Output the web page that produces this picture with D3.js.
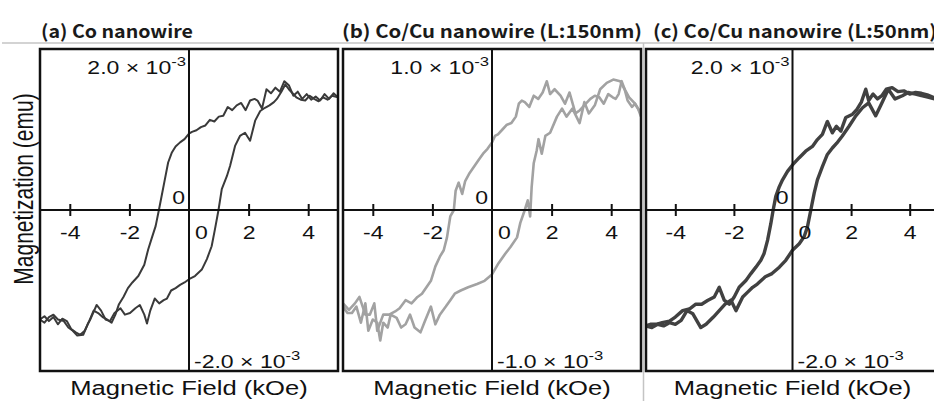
<!DOCTYPE html>
<html>
<head>
<meta charset="utf-8">
<script src="https://cdn.jsdelivr.net/npm/d3@7/dist/d3.min.js"></script>
<style>
  body { margin: 0; background: #fff; }
  svg { display: block; }
</style>
</head>
<body>
<svg id="chart"></svg>
<script>
// field in kOe, magnetization in units of 1e-3 emu
const fieldTicks = [-4, -2, 0, 2, 4];
const panelTitles = ["(a) Co nanowire", "(b) Co/Cu nanowire (L:150nm)", "(c) Co/Cu nanowire (L:50nm)"];
const magLimits = [2, 1, 2];
const limitText = ["2.0", "1.0", "2.0"];
const xLabel = "Magnetic Field (kOe)";
const yLabel = "Magnetization (emu)";

// (a) Co nanowire
const coDown = [[5.0,1.40],[4.85,1.45],[4.7,1.38],[4.55,1.44],[4.4,1.36],[4.25,1.41],[4.1,1.37],[3.95,1.44],[3.8,1.38],[3.65,1.47],[3.5,1.42],[3.35,1.55],[3.2,1.60],[3.05,1.47],[2.9,1.52],[2.75,1.45],[2.6,1.50],[2.45,1.26],[2.3,1.36],[2.2,1.38],[2.05,1.36],[1.9,1.24],[1.75,1.33],[1.6,1.30],[1.45,1.24],[1.3,1.28],[1.15,1.17],[1.0,1.16],[0.85,1.10],[0.7,1.12],[0.55,1.05],[0.4,1.03],[0.25,0.99],[0.1,0.97],[0.0,0.95],[-0.15,0.88],[-0.3,0.84],[-0.45,0.79],[-0.58,0.71],[-0.7,0.59],[-0.81,0.38],[-0.92,0.17],[-1.01,0.0],[-1.12,-0.2],[-1.25,-0.35],[-1.37,-0.49],[-1.5,-0.68],[-1.7,-0.82],[-1.9,-0.90],[-2.05,-0.97],[-2.2,-1.08],[-2.35,-1.17],[-2.47,-1.30],[-2.6,-1.40],[-2.75,-1.36],[-2.9,-1.33],[-3.05,-1.28],[-3.2,-1.25],[-3.35,-1.38],[-3.5,-1.50],[-3.65,-1.55],[-3.8,-1.52],[-3.95,-1.48],[-4.1,-1.38],[-4.25,-1.35],[-4.4,-1.42],[-4.55,-1.33],[-4.7,-1.38],[-4.85,-1.32],[-5.0,-1.36]];
const coUp = [[-5.0,-1.36],[-4.85,-1.40],[-4.7,-1.33],[-4.55,-1.30],[-4.4,-1.36],[-4.2,-1.38],[-4.05,-1.46],[-3.9,-1.50],[-3.75,-1.56],[-3.55,-1.55],[-3.4,-1.42],[-3.3,-1.35],[-3.1,-1.18],[-2.95,-1.25],[-2.8,-1.36],[-2.65,-1.38],[-2.5,-1.28],[-2.3,-1.22],[-2.15,-1.30],[-1.98,-1.28],[-1.8,-1.22],[-1.65,-1.18],[-1.5,-1.30],[-1.41,-1.41],[-1.3,-1.25],[-1.15,-1.10],[-1.0,-1.16],[-0.85,-1.12],[-0.74,-1.10],[-0.6,-1.0],[-0.45,-0.97],[-0.3,-0.93],[-0.15,-0.90],[0.0,-0.86],[0.2,-0.82],[0.43,-0.74],[0.6,-0.61],[0.76,-0.45],[0.87,-0.24],[0.99,0.0],[1.1,0.26],[1.27,0.42],[1.38,0.55],[1.55,0.80],[1.71,0.92],[1.88,0.96],[2.05,0.86],[2.22,1.11],[2.39,1.23],[2.55,1.27],[2.7,1.30],[2.85,1.34],[2.95,1.38],[3.1,1.47],[3.23,1.56],[3.35,1.50],[3.45,1.46],[3.6,1.40],[3.75,1.37],[3.9,1.36],[4.05,1.42],[4.2,1.38],[4.35,1.35],[4.5,1.40],[4.65,1.37],[4.8,1.42],[5.0,1.40]];

// (b) Co/Cu, L = 150 nm
const cu150Down = [[5.0,0.58],[4.9,0.63],[4.8,0.66],[4.7,0.64],[4.55,0.68],[4.45,0.75],[4.35,0.80],[4.25,0.72],[4.15,0.69],[4.05,0.70],[3.9,0.72],[3.75,0.66],[3.6,0.70],[3.45,0.71],[3.3,0.69],[3.15,0.66],[2.95,0.62],[2.8,0.60],[2.6,0.73],[2.45,0.66],[2.3,0.71],[2.1,0.75],[1.95,0.72],[1.84,0.80],[1.7,0.73],[1.55,0.69],[1.4,0.71],[1.25,0.64],[1.1,0.67],[1.0,0.68],[0.9,0.66],[0.8,0.58],[0.65,0.54],[0.5,0.53],[0.35,0.50],[0.2,0.47],[0.1,0.46],[0.0,0.42],[-0.15,0.38],[-0.3,0.35],[-0.45,0.31],[-0.6,0.27],[-0.75,0.23],[-0.9,0.18],[-1.0,0.10],[-1.12,0.17],[-1.22,0.12],[-1.28,0.0],[-1.4,-0.04],[-1.51,-0.17],[-1.62,-0.25],[-1.75,-0.29],[-1.9,-0.35],[-2.05,-0.44],[-2.2,-0.48],[-2.35,-0.52],[-2.5,-0.54],[-2.7,-0.58],[-2.9,-0.56],[-3.1,-0.61],[-3.25,-0.63],[-3.45,-0.65],[-3.65,-0.65],[-3.85,-0.75],[-3.95,-0.58],[-4.1,-0.65],[-4.25,-0.65],[-4.45,-0.54],[-4.6,-0.58],[-4.8,-0.62],[-5.0,-0.58]];
const cu150Up = [[-5.0,-0.60],[-4.85,-0.64],[-4.7,-0.64],[-4.55,-0.60],[-4.4,-0.70],[-4.25,-0.58],[-4.15,-0.75],[-4.0,-0.68],[-3.85,-0.70],[-3.75,-0.81],[-3.65,-0.70],[-3.5,-0.73],[-3.4,-0.65],[-3.2,-0.67],[-3.05,-0.73],[-2.9,-0.71],[-2.75,-0.65],[-2.6,-0.73],[-2.4,-0.76],[-2.25,-0.69],[-2.05,-0.60],[-1.9,-0.71],[-1.75,-0.65],[-1.55,-0.60],[-1.4,-0.56],[-1.25,-0.52],[-1.05,-0.50],[-0.8,-0.48],[-0.5,-0.46],[-0.25,-0.44],[0.0,-0.40],[0.22,-0.33],[0.45,-0.27],[0.62,-0.23],[0.84,-0.17],[0.95,-0.08],[1.1,0.0],[1.2,0.06],[1.28,-0.04],[1.33,0.14],[1.4,0.29],[1.5,0.37],[1.56,0.44],[1.67,0.35],[1.79,0.46],[1.95,0.48],[2.18,0.58],[2.35,0.63],[2.5,0.58],[2.7,0.63],[2.94,0.54],[3.1,0.67],[3.25,0.60],[3.45,0.65],[3.63,0.75],[3.85,0.79],[4.07,0.81],[4.3,0.80],[4.45,0.75],[4.6,0.70],[4.8,0.66],[5.0,0.60]];

// (c) Co/Cu, L = 50 nm
const cu50Down = [[5.0,1.38],[4.8,1.40],[4.6,1.43],[4.4,1.45],[4.2,1.46],[4.0,1.44],[3.8,1.48],[3.6,1.47],[3.4,1.52],[3.2,1.50],[3.05,1.42],[2.9,1.38],[2.75,1.44],[2.6,1.36],[2.5,1.50],[2.35,1.34],[2.2,1.25],[2.05,1.19],[1.82,1.15],[1.65,0.98],[1.5,1.04],[1.36,0.96],[1.19,1.10],[1.02,0.94],[0.85,0.875],[0.68,0.79],[0.45,0.73],[0.23,0.65],[0.0,0.56],[-0.17,0.48],[-0.34,0.375],[-0.45,0.29],[-0.57,0.17],[-0.66,0.0],[-0.74,-0.17],[-0.85,-0.375],[-0.97,-0.54],[-1.08,-0.625],[-1.25,-0.71],[-1.42,-0.79],[-1.59,-0.875],[-1.82,-0.96],[-1.99,-1.08],[-2.16,-1.17],[-2.33,-1.12],[-2.5,-0.96],[-2.67,-1.08],[-2.9,-1.125],[-3.1,-1.17],[-3.3,-1.17],[-3.52,-1.23],[-3.75,-1.25],[-4.0,-1.33],[-4.2,-1.38],[-4.45,-1.40],[-4.65,-1.42],[-4.85,-1.42],[-5.0,-1.44]];
const cu50Up = [[-5.0,-1.44],[-4.8,-1.46],[-4.6,-1.42],[-4.4,-1.44],[-4.2,-1.40],[-4.0,-1.42],[-3.8,-1.37],[-3.6,-1.25],[-3.4,-1.29],[-3.13,-1.46],[-2.95,-1.42],[-2.7,-1.33],[-2.5,-1.25],[-2.3,-1.17],[-2.1,-1.12],[-1.93,-1.25],[-1.7,-1.08],[-1.53,-1.02],[-1.36,-0.96],[-1.2,-0.92],[-1.05,-0.87],[-0.93,-0.83],[-0.7,-0.79],[-0.45,-0.71],[-0.23,-0.625],[0.0,-0.5],[0.23,-0.42],[0.4,-0.33],[0.51,-0.21],[0.625,0.0],[0.74,0.21],[0.85,0.375],[1.02,0.54],[1.19,0.69],[1.36,0.77],[1.51,0.83],[1.7,0.92],[1.93,1.04],[2.16,1.17],[2.39,1.27],[2.6,1.33],[2.84,1.17],[3.05,1.33],[3.27,1.50],[3.5,1.38],[3.75,1.42],[3.95,1.46],[4.2,1.44],[4.4,1.42],[4.65,1.40],[4.85,1.38],[5.0,1.38]];

const loops = [[coDown, coUp], [cu150Down, cu150Up], [cu50Down, cu50Up]];

/* layout */
const width = 934, height = 401;
const SX = 1.28; // the original figure is stretched horizontally
const frames = [
    {left: 40, right: 338, titleX: 41, titleW: 152},
    {left: 343, right: 641, titleX: 342, titleW: 300},
    {left: 646, right: 939, titleX: 653, titleW: 284}
];
const frameTop = 49, frameBottom = 371;
const lineColors = ["#3a3a3a", "#a2a2a2", "#414141"];
const lineWidths = [2, 2.6, 3.4];

const svg = d3.select("#chart")
    .attr("width", width)
    .attr("height", height)
    .attr("font-family", "'Liberation Sans', Arial, sans-serif");

// light separators
svg.append("line").attr("x1", 2).attr("x2", width).attr("y1", 43).attr("y2", 43)
    .attr("stroke", "#c4c4c4").attr("stroke-width", 1.5);
svg.append("line").attr("x1", 643.5).attr("x2", 643.5).attr("y1", 43).attr("y2", height)
    .attr("stroke", "#c4c4c4").attr("stroke-width", 1.5);

function stretched(parent, x, y, str, anchor, size) {
    return parent.append("text")
        .attr("transform", `translate(${x},${y}) scale(${SX},1)`)
        .attr("text-anchor", anchor)
        .attr("font-size", size)
        .attr("fill", "#111")
        .text(str);
}

function powerLabel(parent, x, y, mant, anchor) {
    const t = parent.append("text")
        .attr("transform", `translate(${x},${y}) scale(${SX},1)`)
        .attr("text-anchor", anchor)
        .attr("font-size", 18)
        .attr("fill", "#111");
    t.append("tspan").text(mant + " \u00d7 10");
    t.append("tspan").attr("dy", -8).attr("font-size", 13).text("-3");
}

frames.forEach((f, i) => {
    const x = d3.scaleLinear().domain([-5, 5]).range([f.left, f.right]);
    const y = d3.scaleLinear().domain([-magLimits[i], magLimits[i]]).range([frameBottom, frameTop]);
    const x0 = x(0), y0 = y(0);
    const g = svg.append("g");

    g.append("clipPath").attr("id", `clip${i}`)
      .append("rect")
        .attr("x", f.left).attr("y", frameTop)
        .attr("width", f.right - f.left).attr("height", frameBottom - frameTop);

    const line = d3.line()
        .x((d) => x(d[0]))
        .y((d) => y(d[1]));

    loops[i].forEach((branch) => {
        g.append("path")
            .datum(branch)
            .attr("clip-path", `url(#clip${i})`)
            .attr("fill", "none")
            .attr("stroke", lineColors[i])
            .attr("stroke-width", lineWidths[i])
            .attr("stroke-linejoin", "round")
            .attr("d", line);
    });

    // frame and zero axes
    g.append("rect")
        .attr("x", f.left).attr("y", frameTop)
        .attr("width", f.right - f.left).attr("height", frameBottom - frameTop)
        .attr("fill", "none").attr("stroke", "#111").attr("stroke-width", 2.5);
    g.append("line").attr("x1", x0).attr("x2", x0).attr("y1", frameTop).attr("y2", frameBottom)
        .attr("stroke", "#111").attr("stroke-width", 2);
    g.append("line").attr("x1", f.left).attr("x2", f.right).attr("y1", y0).attr("y2", y0)
        .attr("stroke", "#111").attr("stroke-width", 2);

    g.append("g")
        .attr("transform", `translate(0,${y0 - 6})`)
        .call(d3.axisBottom(x).tickValues(fieldTicks).tickSize(12).tickFormat((d) => String(d)))
        .call((s) => s.select(".domain").remove())
        .call((s) => s.selectAll(".tick line")
            .attr("stroke", "#111").attr("stroke-width", 2)
            .attr("opacity", (d) => d === 0 ? 0 : 1))
        .call((s) => s.selectAll(".tick text")
            .attr("y", null).attr("dy", null)
            .attr("font-family", "'Liberation Sans', Arial, sans-serif")
            .attr("font-size", 18).attr("fill", "#111")
            .attr("transform", (d) => `translate(${d === 0 ? 12 : 0},35) scale(${SX},1)`));

    // magnetization labels
    stretched(g, x0 - 4, y0 - 6, "0", "end", 18);
    powerLabel(g, x0 - 3, 74, limitText[i], "end");
    powerLabel(g, x0 + 5, 368, "-" + limitText[i], "start");

    stretched(g, x0, 395, xLabel, "middle", 20);

    svg.append("text")
        .attr("x", f.titleX).attr("y", 38)
        .attr("font-family", "'Noto Sans CJK JP', 'Noto Sans', sans-serif")
        .attr("font-weight", "bold")
        .attr("font-size", 18)
        .attr("fill", "#1a1a1a")
        .attr("textLength", f.titleW)
        .attr("lengthAdjust", "spacingAndGlyphs")
        .text(panelTitles[i]);
});

svg.append("text")
    .attr("transform", `translate(33,189) scale(${SX},1) rotate(-90)`)
    .attr("text-anchor", "middle")
    .attr("font-size", 21)
    .attr("fill", "#111")
    .text(yLabel);
</script>
</body>
</html>
